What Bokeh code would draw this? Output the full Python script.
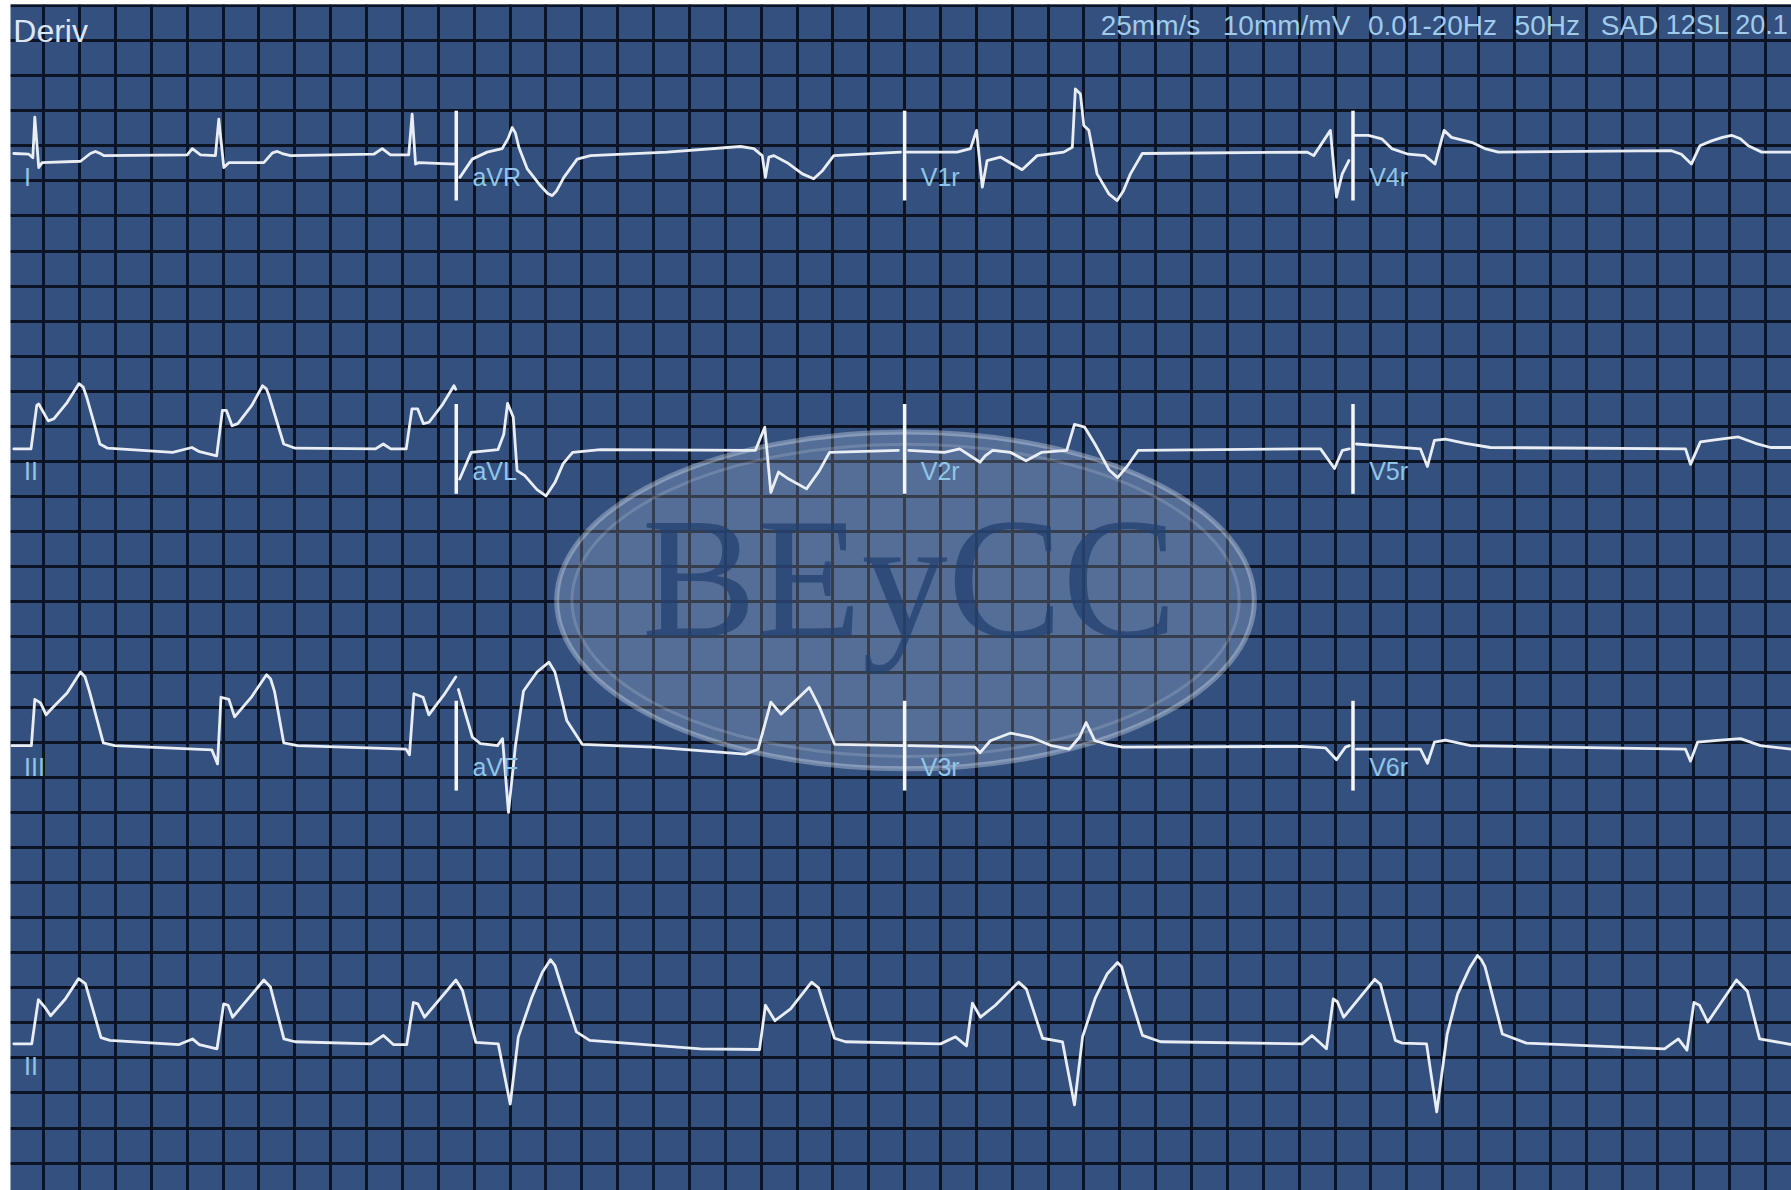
from bokeh.plotting import figure
from bokeh.models import Range1d, Grid, SingleIntervalTicker
from bokeh.core.properties import value
from bokeh.embed import file_html
from bokeh.resources import INLINE

# ---------------- data (time in s at 25 mm/s, amplitude in mV at 10 mm/mV) ----------------
LEAD_I_T = [0.033, 0.117, 0.139, 0.150, 0.172, 0.191, 0.405, 0.460, 0.488, 0.515, 0.535, 1.000,
            1.028, 1.074, 1.157, 1.176, 1.204, 1.232, 1.427, 1.475, 1.502, 1.530, 1.576, 2.040,
            2.087, 2.133, 2.235, 2.254, 2.273, 2.291, 2.496]
LEAD_I_MV = [0.03, 0.02, -0.03, 0.55, -0.17, -0.10, -0.08, 0.03, 0.06, 0.03, 0.0, 0.01,
             0.10, 0.01, 0.0, 0.52, -0.17, -0.10, -0.10, 0.04, 0.06, 0.03, 0.0, 0.02,
             0.10, 0.01, 0.01, 0.59, -0.12, -0.10, -0.12]

AVR_T = [2.520, 2.589, 2.672, 2.756, 2.790, 2.812, 2.830, 2.849, 2.896, 2.970, 3.010, 3.035,
         3.060, 3.100, 3.174, 3.248, 3.676, 4.085, 4.159, 4.206, 4.224, 4.243, 4.271, 4.345,
         4.430, 4.493, 4.540, 4.605, 4.977]
AVR_MV = [-0.31, -0.05, 0.05, 0.10, 0.25, 0.40, 0.32, 0.12, -0.19, -0.43, -0.54, -0.57,
          -0.50, -0.31, -0.05, 0.0, 0.05, 0.13, 0.10, 0.0, -0.31, -0.02, 0.0, -0.10,
          -0.26, -0.33, -0.22, 0.0, 0.05]

V1R_T = [5.014, 5.293, 5.367, 5.401, 5.433, 5.460, 5.534, 5.600, 5.655, 5.739, 5.887, 5.935,
         5.952, 5.980, 5.999, 6.027, 6.073, 6.140, 6.185, 6.220, 6.259, 6.325, 7.245, 7.281,
         7.374, 7.393, 7.408, 7.440, 7.477]
V1R_MV = [0.05, 0.05, 0.10, 0.36, -0.45, -0.07, -0.02, -0.12, -0.20, 0.0, 0.05, 0.12,
          0.95, 0.88, 0.43, 0.36, -0.26, -0.55, -0.64, -0.50, -0.26, 0.03, 0.05, 0.0,
          0.36, -0.17, -0.59, -0.26, -0.07]

V4R_T = [7.511, 7.586, 7.660, 7.716, 7.808, 7.901, 7.957, 8.008, 8.049, 8.161, 8.235, 8.310,
         9.276, 9.331, 9.387, 9.434, 9.499, 9.560, 9.611, 9.660, 9.704, 9.779, 9.945]
V4R_MV = [0.29, 0.29, 0.24, 0.10, 0.02, 0.0, -0.12, 0.36, 0.26, 0.19, 0.10, 0.05,
          0.07, 0.02, -0.12, 0.14, 0.21, 0.26, 0.29, 0.24, 0.14, 0.05, 0.05]

LEAD_II_T = [0.033, 0.129, 0.161, 0.172, 0.225, 0.257, 0.330, 0.396, 0.420, 0.439, 0.513, 0.556,
             0.919, 1.026, 1.068, 1.164, 1.196, 1.218, 1.250, 1.282, 1.360, 1.420, 1.440, 1.453,
             1.538, 1.602, 2.050, 2.093, 2.135, 2.221, 2.253, 2.285, 2.317, 2.348, 2.420, 2.487,
             2.497]
LEAD_II_MV = [0.0, 0.0, 0.62, 0.64, 0.40, 0.43, 0.66, 0.93, 0.88, 0.74, 0.07, 0.01,
              -0.05, 0.02, -0.04, -0.10, 0.55, 0.55, 0.33, 0.36, 0.62, 0.90, 0.86, 0.78,
              0.07, 0.01, 0.0, 0.07, 0.0, 0.0, 0.57, 0.57, 0.36, 0.38, 0.62, 0.90,
              0.85]

AVL_T = [2.519, 2.583, 2.733, 2.765, 2.786, 2.818, 2.839, 2.882, 2.950, 3.000, 3.050, 3.096,
         3.149, 3.305, 4.168, 4.220, 4.254, 4.297, 4.354, 4.453, 4.525, 4.581, 4.965]
AVL_MV = [-0.43, -0.05, -0.01, 0.21, 0.65, 0.45, -0.31, -0.38, -0.58, -0.67, -0.48, -0.21,
          -0.05, -0.01, -0.02, 0.31, -0.62, -0.33, -0.43, -0.57, -0.31, -0.05, -0.02]

V2R_T = [5.023, 5.222, 5.307, 5.421, 5.449, 5.491, 5.591, 5.677, 5.762, 5.904, 5.947, 6.004,
         6.061, 6.140, 6.188, 6.240, 6.303, 7.207, 7.319, 7.397, 7.441, 7.480]
V2R_MV = [-0.02, -0.05, 0.0, -0.19, -0.10, -0.02, -0.05, -0.17, -0.05, -0.02, 0.35, 0.31,
          0.07, -0.30, -0.41, -0.25, -0.02, 0.0, 0.0, -0.28, -0.02, 0.0]

V5R_T = [7.519, 7.876, 7.915, 7.954, 8.015, 8.127, 8.266, 9.354, 9.382, 9.437, 9.549, 9.649,
         9.744, 9.828, 9.945]
V5R_MV = [0.07, 0.0, -0.25, 0.12, 0.14, 0.08, 0.02, 0.0, -0.22, 0.10, 0.14, 0.17,
          0.08, 0.02, 0.02]

LEAD_III_T = [0.022, 0.131, 0.150, 0.182, 0.213, 0.245, 0.330, 0.405, 0.430, 0.455, 0.532, 0.596,
              1.137, 1.169, 1.188, 1.232, 1.264, 1.360, 1.442, 1.465, 1.487, 1.538, 1.615, 2.220,
              2.239, 2.264, 2.315, 2.347, 2.430, 2.497]
LEAD_III_MV = [0.0, 0.0, 0.66, 0.61, 0.44, 0.53, 0.75, 1.05, 0.98, 0.77, 0.04, 0.0,
               -0.06, -0.26, 0.69, 0.66, 0.41, 0.70, 1.01, 0.95, 0.77, 0.04, 0.0, -0.05,
               -0.13, 0.74, 0.69, 0.44, 0.72, 0.98]

AVF_T = [2.512, 2.552, 2.590, 2.635, 2.730, 2.758, 2.791, 2.830, 2.875, 2.950, 3.017, 3.050,
         3.116, 3.202, 3.600, 4.112, 4.183, 4.254, 4.311, 4.400, 4.468, 4.525, 4.610, 4.994]
AVF_MV = [0.80, 0.45, 0.12, 0.03, 0.0, 0.10, -0.95, 0.0, 0.78, 1.05, 1.19, 1.05,
          0.36, 0.02, -0.02, -0.12, -0.05, 0.62, 0.45, 0.66, 0.83, 0.55, 0.02, 0.0]

V3R_T = [5.023, 5.392, 5.421, 5.478, 5.591, 5.705, 5.819, 5.918, 5.975, 6.012, 6.061, 6.132,
         6.217, 7.207, 7.346, 7.408, 7.458, 7.480]
V3R_MV = [0.0, -0.02, -0.10, 0.07, 0.18, 0.12, 0.0, -0.05, 0.12, 0.33, 0.07, 0.02,
          -0.02, -0.01, -0.03, -0.20, -0.02, 0.0]

V6R_T = [7.519, 7.876, 7.915, 7.954, 8.015, 8.155, 9.354, 9.382, 9.421, 9.549, 9.661, 9.772, 9.945]
V6R_MV = [-0.05, -0.05, -0.25, 0.05, 0.08, 0.0, -0.05, -0.22, 0.05, 0.08, 0.10, 0.0, -0.05]

RHYTHM_II_T = [0.033, 0.133, 0.170, 0.207, 0.238, 0.320, 0.394, 0.432, 0.519, 0.569, 0.955, 1.029,
               1.067, 1.166, 1.203, 1.228, 1.253, 1.427, 1.464, 1.539, 1.601, 2.025, 2.094, 2.149,
               2.224, 2.261, 2.286, 2.323, 2.498, 2.535, 2.609, 2.734, 2.801, 2.846, 2.921, 2.980,
               3.025, 3.050, 3.083, 3.170, 3.244, 3.862, 4.191, 4.224, 4.277, 4.364, 4.481, 4.520,
               4.609, 4.670, 5.200, 5.284, 5.345, 5.378, 5.423, 5.506, 5.635, 5.679, 5.769, 5.880,
               5.947, 5.992, 6.064, 6.130, 6.187, 6.210, 6.237, 6.326, 6.427, 7.217, 7.271, 7.352,
               7.390, 7.413, 7.448, 7.621, 7.653, 7.736, 7.775, 7.910, 7.967, 8.025, 8.083, 8.150,
               8.194, 8.215, 8.236, 8.333, 8.467, 9.237, 9.314, 9.362, 9.401, 9.432, 9.478, 9.638,
               9.699, 9.767, 9.945]
RHYTHM_II_MV = [0.0, 0.0, 0.63, 0.52, 0.40, 0.64, 0.93, 0.86, 0.09, 0.05, -0.01, 0.07,
                -0.01, -0.07, 0.57, 0.55, 0.38, 0.91, 0.81, 0.07, 0.03, 0.0, 0.12, -0.01,
                -0.01, 0.59, 0.57, 0.38, 0.91, 0.76, 0.02, 0.0, -0.86, 0.10, 0.66, 1.02,
                1.20, 1.12, 0.85, 0.17, 0.05, -0.07, -0.08, 0.55, 0.33, 0.50, 0.88, 0.80,
                0.08, 0.03, 0.0, 0.10, -0.03, 0.58, 0.38, 0.55, 0.88, 0.78, 0.08, 0.03,
                -0.87, 0.10, 0.66, 1.00, 1.16, 1.10, 0.85, 0.12, 0.03, 0.0, 0.12, -0.07,
                0.64, 0.60, 0.38, 0.92, 0.85, 0.05, 0.01, 0.0, -0.97, 0.14, 0.71, 1.08,
                1.26, 1.20, 1.10, 0.14, 0.01, -0.07, 0.07, -0.09, 0.59, 0.55, 0.31, 0.91,
                0.75, 0.07, -0.01]

LEAD_NAMES = ["I", "aVR", "V1r", "V4r",
              "II", "aVL", "V2r", "V5r",
              "III", "aVF", "V3r", "V6r",
              "II"]
HEADER_LEFT = "Deriv"
HEADER_TOKENS = ["25mm/s", "10mm/mV", "0.01-20Hz", "50Hz", "SAD", "12SL 20.1"]
WATERMARK = "BEyCC"

TRACES = [(LEAD_I_T, LEAD_I_MV), (AVR_T, AVR_MV), (V1R_T, V1R_MV), (V4R_T, V4R_MV),
          (LEAD_II_T, LEAD_II_MV), (AVL_T, AVL_MV), (V2R_T, V2R_MV), (V5R_T, V5R_MV),
          (LEAD_III_T, LEAD_III_MV), (AVF_T, AVF_MV), (V3R_T, V3R_MV), (V6R_T, V6R_MV),
          (RHYTHM_II_T, RHYTHM_II_MV)]

# ---------------- layout ----------------
ROW_BASE = [-2.14, -6.32, -10.55, -14.80]
COL_START = [0.0, 2.5, 5.0, 7.5]

BG = "#34507f"
GRID = "#0c1322"
TRACE = "#e9eef5"
LABEL = "#8fc6e8"

p = figure(width=1791, height=1190, output_backend="svg", toolbar_location=None,
           x_axis_location=None, y_axis_location=None,
           min_border_left=10, min_border_top=4, min_border_right=0, min_border_bottom=0,
           x_range=Range1d(0.0145, 9.945), y_range=Range1d(-16.89, 0.014),
           background_fill_color=BG, border_fill_color="white", outline_line_color=None)

p.add_layout(Grid(dimension=0, ticker=SingleIntervalTicker(interval=0.2, num_minor_ticks=0),
                  grid_line_color=GRID, grid_line_width=3))
p.add_layout(Grid(dimension=1, ticker=SingleIntervalTicker(interval=0.5, num_minor_ticks=0),
                  grid_line_color=GRID, grid_line_width=3))

# watermark
p.ellipse(x=[5.005], y=[-8.48], width=3.89, height=4.80, fill_color="#cfdbee", fill_alpha=0.22,
          line_color="#e2eaf6", line_alpha=0.35, line_width=5)
p.ellipse(x=[5.005], y=[-8.48], width=3.72, height=4.45, fill_color=None,
          line_color="#e2eaf6", line_alpha=0.18, line_width=3)
p.text(x=[5.027], y=[-8.16], text=[WATERMARK], text_font=value("Liberation Serif"),
       text_font_size="172px", text_align="center", text_baseline="middle",
       text_color="#22406f", text_alpha=0.75)

# traces
for i, (ts, mv) in enumerate(TRACES):
    row = i // 4 if i < 12 else 3
    base = ROW_BASE[row]
    p.line(x=ts, y=[base + v for v in mv], line_color=TRACE, line_width=2.8,
           line_join="round", line_cap="round")

# lead-change markers
mx0, my0, my1 = [], [], []
for r in range(3):
    for c in range(1, 4):
        mx0.append(COL_START[c]); my0.append(ROW_BASE[r] - 0.64); my1.append(ROW_BASE[r] + 0.64)
p.segment(x0=mx0, y0=my0, x1=mx0, y1=my1, line_color="#f4f6fa", line_width=3.5)

# lead labels
lx, ly = [], []
for i in range(13):
    row = i // 4 if i < 12 else 3
    col = i % 4 if i < 12 else 0
    lx.append(COL_START[col] + 0.09)
    ly.append(ROW_BASE[row] - 0.31)
p.text(x=lx, y=ly, text=LEAD_NAMES, text_font=value("Liberation Sans"), text_font_size="25px",
       text_color=LABEL, text_baseline="alphabetic", text_align="left")

# header
p.text(x=[0.03], y=[-0.36], text=[HEADER_LEFT], text_font=value("Liberation Sans"),
       text_font_size="32px", text_color="#dde6f3", text_baseline="alphabetic")
HX = [6.093, 6.774, 7.583, 8.401, 8.881]
p.text(x=HX, y=[-0.28] * len(HX), text=HEADER_TOKENS[:-1], text_font=value("Liberation Sans"),
       text_font_size="28px", text_color="#a0cbea", text_baseline="alphabetic")
p.text(x=[9.93], y=[-0.28], text=HEADER_TOKENS[-1:], text_font=value("Liberation Sans"),
       text_font_size="27px", text_color="#a0cbea", text_baseline="alphabetic",
       text_align="right")

open("out.html", "w").write(file_html(p, INLINE))
